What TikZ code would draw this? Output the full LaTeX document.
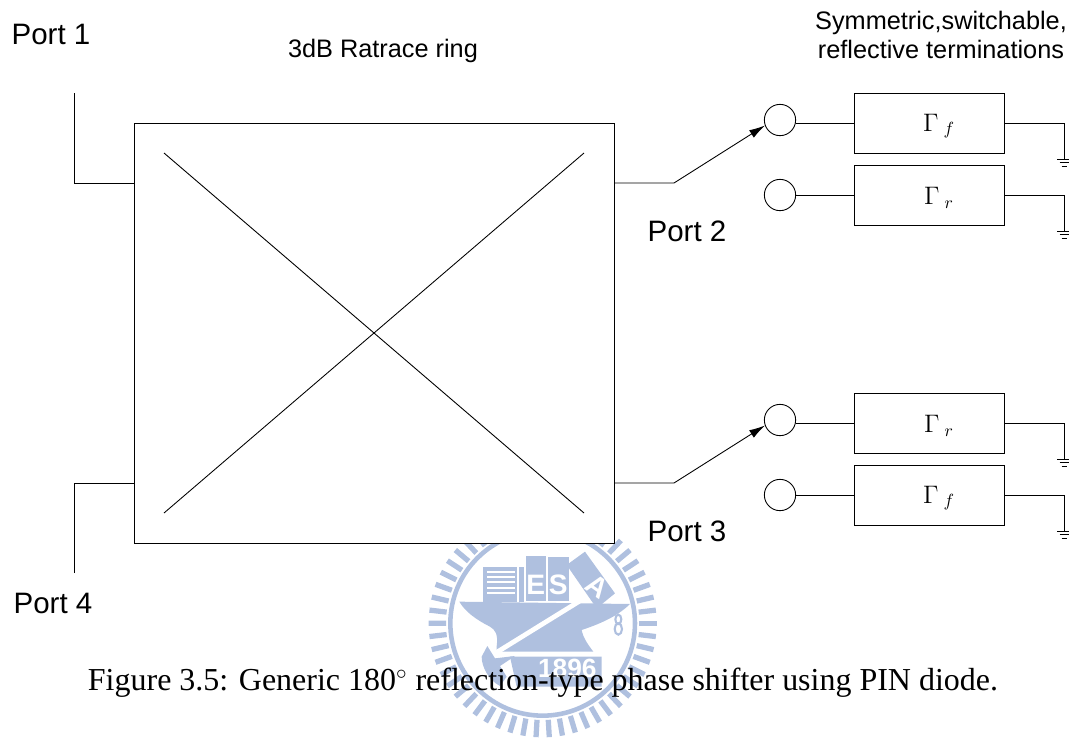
\documentclass[tikz,border=0pt]{standalone}
\usepackage{fontspec}
\setmainfont{Liberation Serif}
\newfontfamily\arialfont{Liberation Sans}
\usepackage{amsmath}
\usetikzlibrary{calc,arrows.meta}
\definecolor{crest}{HTML}{AFC0DF}
\tikzset{
    wire/.style={line width=0.5pt,black},
    portlabel/.style={font=\arialfont\fontsize{16.8}{18}\selectfont,inner sep=0pt},
    headlabel/.style={font=\arialfont\fontsize{14.4}{17}\selectfont,inner sep=0pt,align=center},
    termbox/.style={draw,line width=0.5pt,minimum width=85.4pt,minimum height=34.2pt,inner sep=0pt},
    contact/.style={circle,draw,line width=0.5pt,minimum size=17.8pt,inner sep=0pt},
    crestmark/.style={white,font=\arialfont\bfseries\fontsize{16}{16}\selectfont,inner sep=0pt}
}
\begin{document}
\begin{tikzpicture}[x=0.02cm,y=-0.02cm]
    \useasboundingbox (0,0) rectangle (1069,738);

    \begin{scope}[shift={(400,530)},x=0.00667cm,y=-0.00667cm]
        \foreach \a in {0,6.667,...,355} {
            \draw[crest,line width=3pt] ($(428,280)+(\a:290)$) -- ($(428,280)+(\a:342)$);
        }
        \draw[crest,line width=2.6pt] (428,280) circle (277);
        \fill[crest] (178,215) -- (690,222) .. controls (650,262) and (590,285) .. (545,300)
            .. controls (550,325) and (565,345) .. (580,365) -- (290,365) -- (290,350)
            .. controls (295,310) and (285,300) .. (270,290)
            .. controls (230,270) and (195,245) .. (178,215) -- cycle;
        \draw[white,line width=2.7pt] (282,372) -- (570,194);
        \fill[crest] (330,380) -- (605,380) -- (605,470) -- (350,470) -- cycle;
        \fill[crest] (262,348) -- (285,385) -- (345,378) -- (300,408) -- (320,440)
            -- (300,468) .. controls (265,450) and (245,410) .. (245,380) -- cycle;
        \fill[crest] (248,112) rectangle (350,215);
        \foreach \s in {125,141,157,173,189} {
            \draw[white,line width=1.2pt] (262,\s) -- (345,\s);
        }
        \fill[crest] (358,112) rectangle (372,215);
        \fill[crest] (378,78) rectangle (437,212);
        \fill[crest] (445,82) rectangle (507,212);
        \fill[crest] (500,105) -- (555,65) -- (645,190) -- (590,235) -- cycle;
        \draw[crest,line width=1.2pt] (655,268) ellipse (9 and 14);
        \draw[crest,line width=1.2pt] (655,297) ellipse (11 and 17);
        \node[crestmark] (crestE) at (407,163) {E};
        \node[crestmark] (crestS) at (475,163) {S};
        \node[crestmark,rotate=-35] (crestA) at (592,170) {A};
        \node[crestmark,font=\arialfont\bfseries\fontsize{15}{15}\selectfont] (crestYear) at (502,416) {1896};
    \end{scope}

    \node[draw,fill=white,line width=0.5pt,minimum width=273.2pt,minimum height=239pt,inner sep=0pt] (ring) at (374.5,333) {};
    \coordinate (crossA) at (164,153);
    \coordinate (crossB) at (584,513);
    \coordinate (crossC) at (164,513);
    \coordinate (crossD) at (584,153);
    \draw[wire] (crossA) -- (crossB);
    \draw[wire] (crossC) -- (crossD);

    \coordinate (kneeOne) at (74,183);
    \coordinate (endOne) at (74,93);
    \coordinate (kneeFour) at (74,483);
    \coordinate (endFour) at (74,573);
    \draw[wire] (endOne) -- (kneeOne) -- (ring.west |- kneeOne);
    \draw[wire] (endFour) -- (kneeFour) -- (ring.west |- kneeFour);

    \foreach \name/\ly/\cy/\lab in {a/123/120/f,b/195/195/r,c/423/420/r,d/495/495/f} {
        \node[contact] (circ\name) at (780,\cy) {};
        \node[termbox] (box\name) at (929,\ly) {};
        \node[inner sep=0pt,font=\fontsize{14.5}{15}\selectfont] (gam\name) at (939,\ly+3) {$\Gamma_{\;\lab}$};
        \coordinate (gnd\name) at (1064,\ly+36);
        \draw[wire] (circ\name.east |- box\name) -- (box\name.west);
        \draw[wire] (box\name.east) -| (gnd\name);
        \draw[wire] ($(gnd\name)+(-7,0)$) -- ($(gnd\name)+(7,0)$);
        \draw[wire] ($(gnd\name)+(-4.5,3.5)$) -- ($(gnd\name)+(4.5,3.5)$);
        \draw[wire] ($(gnd\name)+(-2.5,7)$) -- ($(gnd\name)+(2.5,7)$);
    }

    \coordinate (kneeTwo) at (674,183);
    \coordinate (kneeThree) at (674,483);
    \draw[wire,-{Latex[length=9pt,width=5pt]}] (ring.east |- kneeTwo) -- (kneeTwo) -- (circa.200);
    \draw[wire,-{Latex[length=9pt,width=5pt]}] (ring.east |- kneeThree) -- (kneeThree) -- (circc.200);

    \node[portlabel] (portOne) at (51,34) {Port 1};
    \node[portlabel] (portTwo) at (687,231) {Port 2};
    \node[portlabel] (portThree) at (687,531) {Port 3};
    \node[portlabel] (portFour) at (53,603) {Port 4};
    \node[headlabel] (ringTitle) at (383,51) {3dB Ratrace ring};
    \node[headlabel] (termTitle) at (941,35) {Symmetric,switchable,\\reflective terminations};
    \node[inner sep=0pt,font=\fontsize{18.2}{20}\selectfont] (caption) at (543,683) {Figure 3.5: Generic 180$^\circ$ reflection-type phase shifter using PIN diode.};
\end{tikzpicture}
\end{document}
